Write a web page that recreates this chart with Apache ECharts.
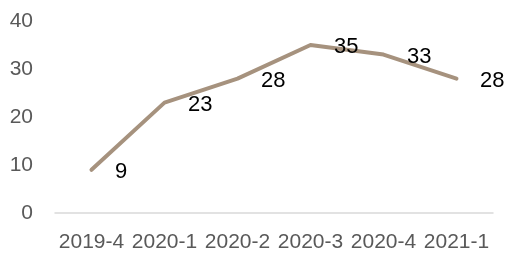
<!DOCTYPE html>
<html>
<head>
<meta charset="utf-8">
<script src="https://cdn.jsdelivr.net/npm/echarts@6/dist/echarts.min.js"></script>
<style>
  html, body { margin: 0; padding: 0; background: #fff; }
  #chart { width: 507px; height: 253px; }
</style>
</head>
<body>
<div id="chart"></div>
<script>
var categories = ["2019-4", "2020-1", "2020-2", "2020-3", "2020-4", "2021-1"];
var values = [9, 23, 28, 35, 33, 28];
var yTicks = { min: 0, max: 40, interval: 10 };

var chart = echarts.init(document.getElementById("chart"));
var option = {
  animation: false,
  grid: { left: 55, right: 14, top: 21, bottom: 40 },
  xAxis: {
    type: "category",
    data: categories,
    boundaryGap: true,
    axisLine: { lineStyle: { color: "#d9d9d9", width: 1.5 } },
    axisTick: { show: false },
    axisLabel: {
      color: "#595959",
      fontFamily: "Liberation Sans",
      fontSize: 21,
      margin: 19,
      interval: 0,
    },
  },
  yAxis: {
    type: "value",
    min: yTicks.min,
    max: yTicks.max,
    interval: yTicks.interval,
    splitLine: { show: false },
    axisLine: { show: false },
    axisTick: { show: false },
    axisLabel: {
      color: "#595959",
      fontFamily: "Liberation Sans",
      fontSize: 21,
      margin: 22,
    },
  },
  series: [
    {
      type: "line",
      data: values,
      symbol: "circle",
      symbolSize: 1,
      showSymbol: true,
      itemStyle: { color: "rgba(0,0,0,0)", borderWidth: 0 },
      lineStyle: { color: "#a6927e", width: 4, cap: "round", join: "round" },
      label: {
        show: true,
        position: "right",
        distance: 23,
        offset: [0, 2],
        color: "#000",
        fontFamily: "Liberation Sans",
        fontSize: 22,
      },
    },
  ],
};
chart.setOption(option);
</script>
</body>
</html>
